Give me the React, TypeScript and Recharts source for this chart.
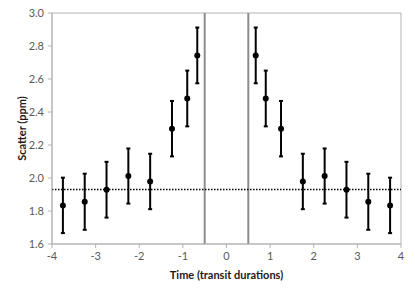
import React from "react";
import {
  ComposedChart,
  Scatter,
  XAxis,
  YAxis,
  ErrorBar,
  ReferenceLine,
  ReferenceArea,
  Label,
} from "recharts";

const times = [-3.75, -3.25, -2.75, -2.25, -1.75, -1.25, -0.9, -0.67, 0.67, 0.9, 1.25, 1.75, 2.25, 2.75, 3.25, 3.75];
const scatterPpm = [1.834, 1.856, 1.929, 2.012, 1.979, 2.299, 2.482, 2.743, 2.743, 2.482, 2.299, 1.979, 2.012, 1.929, 1.856, 1.834];
const errors = [0.168, 0.17, 0.169, 0.167, 0.168, 0.168, 0.169, 0.169, 0.169, 0.169, 0.168, 0.168, 0.167, 0.169, 0.17, 0.168];
const xTicks = [-4, -3, -2, -1, 0, 1, 2, 3, 4];
const yTicks = [1.6, 1.8, 2.0, 2.2, 2.4, 2.6, 2.8, 3.0];
const transitEdges = [-0.5, 0.5];
const baselineScatter = 1.93;

const data = times.map((t, i) => ({ t, s: scatterPpm[i], err: errors[i] }));

const FONT = "Lato, 'Liberation Sans', sans-serif";

const Dot = (props: any) => <circle cx={props.cx} cy={props.cy} r={3} fill="#000" />;

export default function App() {
  return (
    <div style={{ position: "absolute", left: 0, top: 0 }}>
      <ComposedChart
        width={415}
        height={293}
        data={data}
        margin={{ top: 13, right: 14, bottom: 0, left: 0 }}
      >
        <ReferenceArea x1={-4} x2={4} y1={1.6} y2={3.0} fill="none" stroke="#b3b3b3" strokeWidth={1} ifOverflow="extendDomain" />
        <XAxis
          type="number"
          dataKey="t"
          domain={[-4, 4]}
          ticks={xTicks}
          allowDataOverflow
          height={49}
          stroke="#b3b3b3"
          tickSize={4}
          tickMargin={4}
          tick={{ fill: "#595959", fontSize: 11, fontFamily: FONT }}
        >
          <Label
            value="Time (transit durations)"
            position="insideBottom"
            offset={14}
            style={{ fill: "#1a1a1a", fontSize: 11, fontWeight: 700, fontFamily: FONT }}
          />
        </XAxis>
        <YAxis
          type="number"
          dataKey="s"
          domain={[1.6, 3.0]}
          ticks={yTicks}
          allowDataOverflow
          width={52}
          stroke="#b3b3b3"
          tickSize={4}
          tickMargin={4}
          tickFormatter={(v: number) => v.toFixed(1)}
          tick={{ fill: "#595959", fontSize: 11, fontFamily: FONT }}
        >
          <Label
            content={(p: any) => {
              const vb = p.viewBox || {};
              const cx = (vb.x || 0) + 21;
              const cy = (vb.y || 0) + (vb.height || 0) / 2;
              return (
                <text
                  x={cx}
                  y={cy}
                  transform={`rotate(-90, ${cx}, ${cy})`}
                  textAnchor="middle"
                  dominantBaseline="central"
                  style={{ fill: "#1a1a1a", fontSize: 11, fontWeight: 700, fontFamily: FONT }}
                >
                  Scatter (ppm)
                </text>
              );
            }}
          />
        </YAxis>
        {transitEdges.map((x) => (
          <ReferenceLine key={x} x={x} stroke="#8c8c8c" strokeWidth={2} />
        ))}
        <ReferenceLine y={baselineScatter} stroke="#000" strokeWidth={1.5} strokeDasharray="1.5 1.5" />
        <Scatter dataKey="s" shape={<Dot />} isAnimationActive={false}>
          <ErrorBar dataKey="err" direction="y" width={2} stroke="#000" strokeWidth={2} isAnimationActive={false} />
        </Scatter>
      </ComposedChart>
    </div>
  );
}
